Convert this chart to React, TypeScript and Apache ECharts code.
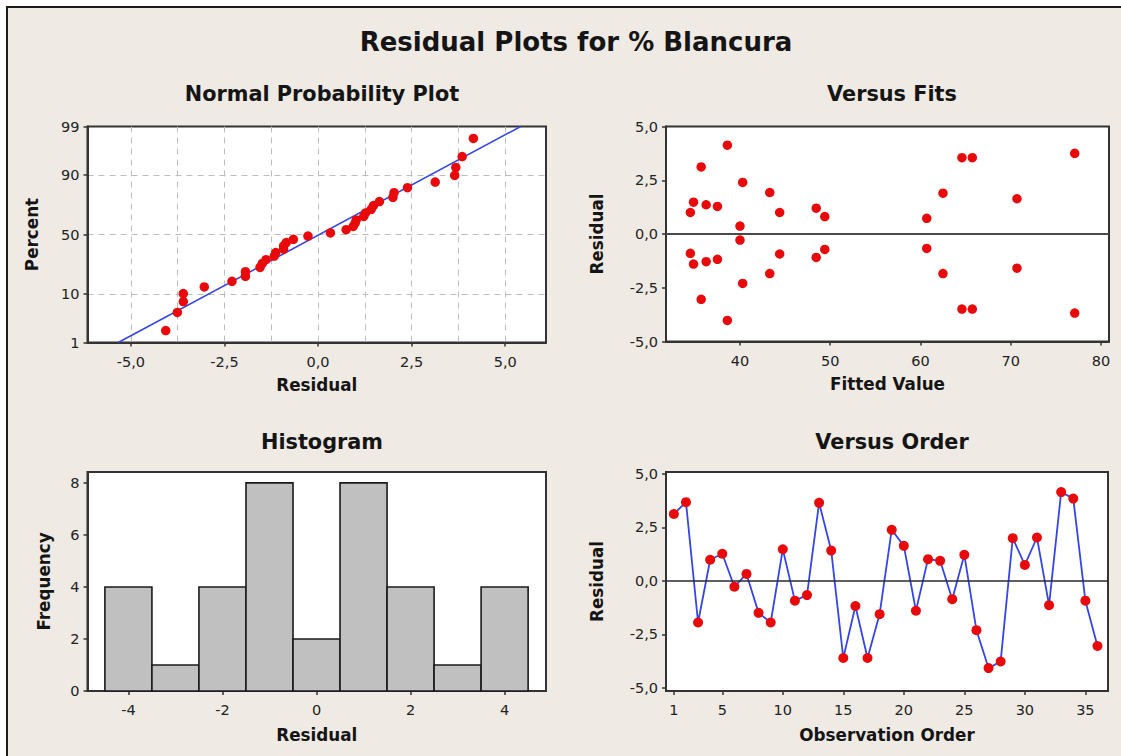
import React, { useEffect, useRef } from "react";
import * as echarts from "echarts";

const MAIN_TITLE = "Residual Plots for % Blancura";
const PANEL_TITLES = ["Normal Probability Plot", "Versus Fits", "Histogram", "Versus Order"];

// Residuals in observation order (1..36)
const RESIDUALS = [
  3.13, 3.68, -1.94, 0.99, 1.27, -0.27, 0.33, -1.49, -1.94, 1.48, -0.92, -0.66,
  3.65, 1.42, -3.6, -1.17, -3.6, -1.55, 2.39, 1.64, -1.39, 1.02, 0.94, -0.85,
  1.22, -2.3, -4.07, -3.76, 2.0, 0.75, 2.03, -1.13, 4.15, 3.85, -0.92, -3.04,
];

// Versus Fits: fitted value and its residual
const FITTED = [
  34.5, 34.85, 35.7, 36.25, 37.5, 38.6, 40.0, 40.3, 43.3, 44.4, 48.45, 49.4,
  60.7, 62.5, 64.6, 65.75, 70.7, 77.1,
  34.5, 34.85, 35.7, 36.25, 37.5, 38.6, 40.0, 40.3, 43.3, 44.4, 48.45, 49.4,
  60.7, 62.5, 64.6, 65.75, 70.7, 77.1,
];
const FIT_RESIDUALS = [
  1.0, 1.48, 3.12, 1.36, 1.28, 4.13, 0.37, 2.4, 1.93, 1.0, 1.2, 0.81,
  0.73, 1.9, 3.55, 3.55, 1.64, 3.75,
  -0.9, -1.4, -3.04, -1.29, -1.18, -4.02, -0.28, -2.3, -1.84, -0.93, -1.09, -0.72,
  -0.67, -1.84, -3.49, -3.49, -1.59, -3.68,
];

// Histogram bins (centre, width) and frequencies
const BIN_CENTERS = [-4, -3, -2, -1, 0, 1, 2, 3, 4];
const BIN_WIDTH = 1;
const BIN_COUNTS = [4, 1, 4, 8, 2, 8, 4, 1, 4];

// Tick labels
const PROB_TICKS = [1, 10, 50, 90, 99];
const PROB_GRID = [10, 50, 90];
const NPP_X_TICKS = [-5, -2.5, 0, 2.5, 5];
const NPP_X_GRID = [-5, -3.75, -2.5, -1.25, 0, 1.25, 2.5, 3.75, 5];
const HIST_X_TICKS = [-4, -2, 0, 2, 4];
const HIST_Y_TICKS = [0, 2, 4, 6, 8];
const RES_TICKS = [-5, -2.5, 0, 2.5, 5];
const FIT_X_TICKS = [40, 50, 60, 70, 80];
const ORDER_X_TICKS = [1, 5, 10, 15, 20, 25, 30, 35];

// Inverse of the standard normal CDF (Acklam's rational approximation)
function invNorm(p: number): number {
  const a = [-39.69683028665376, 220.9460984245205, -275.9285104469687, 138.357751867269, -30.66479806614716, 2.506628277459239];
  const b = [-54.47609879822406, 161.5858368580409, -155.6989798598866, 66.80131188771972, -13.28068155288572];
  const c = [-0.007784894002430293, -0.3223964580411365, -2.400758277161838, -2.549671010229528, 4.374664141464968, 2.938163982698783];
  const d = [0.007784695709041462, 0.3224671290700398, 2.445134137142996, 3.754408661907416];
  const pl = 0.02425;
  if (p < pl) {
    const q = Math.sqrt(-2 * Math.log(p));
    return (((((c[0] * q + c[1]) * q + c[2]) * q + c[3]) * q + c[4]) * q + c[5]) / ((((d[0] * q + d[1]) * q + d[2]) * q + d[3]) * q + 1);
  }
  if (p <= 1 - pl) {
    const q = p - 0.5;
    const r = q * q;
    return ((((((a[0] * r + a[1]) * r + a[2]) * r + a[3]) * r + a[4]) * r + a[5]) * q) / (((((b[0] * r + b[1]) * r + b[2]) * r + b[3]) * r + b[4]) * r + 1);
  }
  const q = Math.sqrt(-2 * Math.log(1 - p));
  return -(((((c[0] * q + c[1]) * q + c[2]) * q + c[3]) * q + c[4]) * q + c[5]) / ((((d[0] * q + d[1]) * q + d[2]) * q + d[3]) * q + 1);
}

const FONT = "DejaVu Sans";
const INK = "#151515";
const FRAME = "#333333";
const RED = "#E80A0A";
const BLUE = "#3645E6";
const BEIGE = "#EFEAE4";

const comma = (v: number) => v.toFixed(1).replace(".", ",");

function buildOption() {
  const n = RESIDUALS.length;
  // normal scores with median-rank plotting positions
  const sorted = [...RESIDUALS].sort((p, q) => p - q);
  const nppPoints = sorted.map((r, i) => [r, invNorm((i + 1 - 0.3) / (n + 0.4))]);
  const mean = RESIDUALS.reduce((s, v) => s + v, 0) / n;
  const sd = Math.sqrt(RESIDUALS.reduce((s, v) => s + (v - mean) ** 2, 0) / (n - 1));
  const zTicks = PROB_TICKS.map((p) => invNorm(p / 100));
  const zMin = zTicks[0];
  const zMax = zTicks[zTicks.length - 1];
  const fitLine = [
    [mean + sd * zMin, zMin],
    [mean + sd * zMax, zMax],
  ];

  const tickLabel = { fontFamily: FONT, fontSize: 14.5, color: "#222222" };
  const nameStyle = { fontFamily: FONT, fontSize: 16.8, fontWeight: "bold" as const, color: INK };
  const axisLine = { show: true, onZero: false, lineStyle: { color: FRAME, width: 2 } };
  const axisTick = (values: number[]) => ({
    show: true,
    length: 4,
    inside: false,
    customValues: values,
    lineStyle: { color: FRAME, width: 1.5 },
  });
  const dashed = { show: true, lineStyle: { color: "#BDBDBD", width: 1, type: [6, 5] as number[] } };

  const gridBase = { show: true, backgroundColor: "#ffffff", borderColor: FRAME, borderWidth: 2, containLabel: false };

  const subTitle = (text: string, cx: number, top: number) => ({
    text,
    left: cx,
    top,
    textAlign: "center" as const,
    textStyle: { fontFamily: FONT, fontSize: 20.8, fontWeight: "bold" as const, color: INK },
  });

  return {
    animation: false,
    backgroundColor: "#ffffff",
    graphic: [
      {
        type: "rect",
        z: -100,
        shape: { x: 7, y: 7, width: 1300, height: 900 },
        style: { fill: BEIGE, stroke: "#1c1c1c", lineWidth: 2 },
        silent: true,
      },
    ],
    title: [
      {
        text: MAIN_TITLE,
        left: 571,
        top: 24,
        textAlign: "center",
        textStyle: { fontFamily: FONT, fontSize: 26, fontWeight: "bold", color: INK },
      },
      subTitle(PANEL_TITLES[0], 317, 78),
      subTitle(PANEL_TITLES[1], 887, 78),
      subTitle(PANEL_TITLES[2], 317, 426),
      subTitle(PANEL_TITLES[3], 887, 426),
    ],
    grid: [
      { ...gridBase, left: 87.5, top: 126.5, width: 458.5, height: 216 },
      { ...gridBase, left: 666, top: 126.5, width: 443, height: 215 },
      { ...gridBase, left: 87.5, top: 472, width: 458.5, height: 219 },
      { ...gridBase, left: 666, top: 472, width: 442, height: 219 },
    ],
    xAxis: [
      {
        // normal probability plot
        type: "value",
        gridIndex: 0,
        min: -6.16,
        max: 6.09,
        name: "Residual",
        nameLocation: "middle",
        nameGap: 34,
        nameTextStyle: nameStyle,
        axisLine,
        axisTick: axisTick(NPP_X_TICKS),
        axisLabel: { ...tickLabel, margin: 11.5, customValues: NPP_X_TICKS, formatter: comma },
        splitLine: { show: false },
      },
      {
        // reference grid of the normal probability plot
        type: "value",
        gridIndex: 0,
        position: "top",
        min: -6.16,
        max: 6.09,
        axisLine: { show: false, onZero: false },
        axisTick: { show: false, customValues: NPP_X_GRID },
        axisLabel: { show: false },
        splitLine: dashed,
      },
      {
        // versus fits
        type: "value",
        gridIndex: 1,
        min: 31.8,
        max: 80.9,
        name: "Fitted Value",
        nameLocation: "middle",
        nameGap: 34,
        nameTextStyle: nameStyle,
        axisLine,
        axisTick: axisTick(FIT_X_TICKS),
        axisLabel: { ...tickLabel, margin: 11.5, customValues: FIT_X_TICKS },
        splitLine: { show: false },
      },
      {
        // histogram
        type: "value",
        gridIndex: 2,
        min: -4.87,
        max: 4.88,
        name: "Residual",
        nameLocation: "middle",
        nameGap: 35,
        nameTextStyle: nameStyle,
        axisLine,
        axisTick: axisTick(HIST_X_TICKS),
        axisLabel: { ...tickLabel, margin: 11.5, customValues: HIST_X_TICKS },
        splitLine: { show: false },
      },
      {
        // versus order
        type: "value",
        gridIndex: 3,
        min: 0.35,
        max: 36.87,
        name: "Observation Order",
        nameLocation: "middle",
        nameGap: 35,
        nameTextStyle: nameStyle,
        axisLine,
        axisTick: axisTick(ORDER_X_TICKS),
        axisLabel: { ...tickLabel, margin: 11.5, customValues: ORDER_X_TICKS },
        splitLine: { show: false },
      },
    ],
    yAxis: [
      {
        type: "value",
        gridIndex: 0,
        min: zMin,
        max: zMax,
        name: "Percent",
        nameLocation: "middle",
        nameGap: 47,
        nameTextStyle: nameStyle,
        axisLine,
        axisTick: axisTick(zTicks),
        axisLabel: {
          ...tickLabel,
          margin: 8,
          customValues: zTicks,
          formatter: (v: number) => {
            let best = 0;
            zTicks.forEach((z, i) => {
              if (Math.abs(z - v) < Math.abs(zTicks[best] - v)) best = i;
            });
            return String(PROB_TICKS[best]);
          },
        },
        splitLine: { show: false },
      },
      {
        type: "value",
        gridIndex: 0,
        position: "right",
        min: zMin,
        max: zMax,
        axisLine: { show: false, onZero: false },
        axisTick: { show: false, customValues: PROB_GRID.map((p) => invNorm(p / 100)) },
        axisLabel: { show: false },
        splitLine: dashed,
      },
      {
        type: "value",
        gridIndex: 1,
        min: -5,
        max: 5,
        name: "Residual",
        nameLocation: "middle",
        nameGap: 61,
        nameTextStyle: nameStyle,
        axisLine,
        axisTick: axisTick(RES_TICKS),
        axisLabel: { ...tickLabel, margin: 8, customValues: RES_TICKS, formatter: comma },
        splitLine: { show: false },
      },
      {
        type: "value",
        gridIndex: 2,
        min: 0,
        max: 8.42,
        name: "Frequency",
        nameLocation: "middle",
        nameGap: 35,
        nameTextStyle: nameStyle,
        axisLine,
        axisTick: axisTick(HIST_Y_TICKS),
        axisLabel: { ...tickLabel, margin: 8, customValues: HIST_Y_TICKS },
        splitLine: { show: false },
      },
      {
        type: "value",
        gridIndex: 3,
        min: -5.14,
        max: 5.09,
        name: "Residual",
        nameLocation: "middle",
        nameGap: 61,
        nameTextStyle: nameStyle,
        axisLine,
        axisTick: axisTick(RES_TICKS),
        axisLabel: { ...tickLabel, margin: 8, customValues: RES_TICKS, formatter: comma },
        splitLine: { show: false },
      },
    ],
    series: [
      {
        // fitted normal line
        type: "line",
        xAxisIndex: 0,
        yAxisIndex: 0,
        data: fitLine,
        showSymbol: false,
        lineStyle: { color: BLUE, width: 1.6 },
        z: 3,
        silent: true,
      },
      {
        type: "scatter",
        xAxisIndex: 0,
        yAxisIndex: 0,
        data: nppPoints,
        symbol: "circle",
        symbolSize: 9.5,
        itemStyle: { color: RED, opacity: 1 },
        z: 4,
      },
      {
        type: "scatter",
        xAxisIndex: 2,
        yAxisIndex: 2,
        data: FITTED.map((f, i) => [f, FIT_RESIDUALS[i]]),
        symbol: "circle",
        symbolSize: 9.5,
        itemStyle: { color: RED, opacity: 1 },
        z: 4,
        markLine: {
          silent: true,
          symbol: "none",
          label: { show: false },
          lineStyle: { color: "#4a4a4a", width: 2, type: "solid" },
          data: [{ yAxis: 0 }],
        },
      },
      {
        type: "custom",
        xAxisIndex: 3,
        yAxisIndex: 3,
        data: BIN_CENTERS.map((c, i) => [c - BIN_WIDTH / 2, c + BIN_WIDTH / 2, BIN_COUNTS[i]]),
        encode: { x: [0, 1], y: 2 },
        renderItem: (_params: any, api: any) => {
          const p0 = api.coord([api.value(0), api.value(2)]);
          const p1 = api.coord([api.value(1), 0]);
          return {
            type: "rect",
            shape: { x: p0[0], y: p0[1], width: p1[0] - p0[0], height: p1[1] - p0[1] },
            style: { fill: "#C0C0C0", stroke: "#1a1a1a", lineWidth: 1.6 },
          };
        },
        z: 3,
      },
      {
        type: "line",
        xAxisIndex: 4,
        yAxisIndex: 4,
        data: RESIDUALS.map((r, i) => [i + 1, r]),
        symbol: "circle",
        symbolSize: 10,
        showSymbol: true,
        lineStyle: { color: BLUE, width: 1.8 },
        itemStyle: { color: RED, opacity: 1 },
        z: 4,
        markLine: {
          silent: true,
          symbol: "none",
          label: { show: false },
          lineStyle: { color: "#2a2a2a", width: 1.6, type: "solid" },
          data: [{ yAxis: 0 }],
        },
      },
    ],
  };
}

export default function App() {
  const ref = useRef<HTMLDivElement>(null);
  useEffect(() => {
    document.body.style.margin = "0";
    if (!ref.current) return;
    const chart = echarts.init(ref.current, null, { renderer: "svg" });
    chart.setOption(buildOption() as any);
    return () => chart.dispose();
  }, []);
  return <div ref={ref} style={{ width: 1121, height: 756 }} />;
}
